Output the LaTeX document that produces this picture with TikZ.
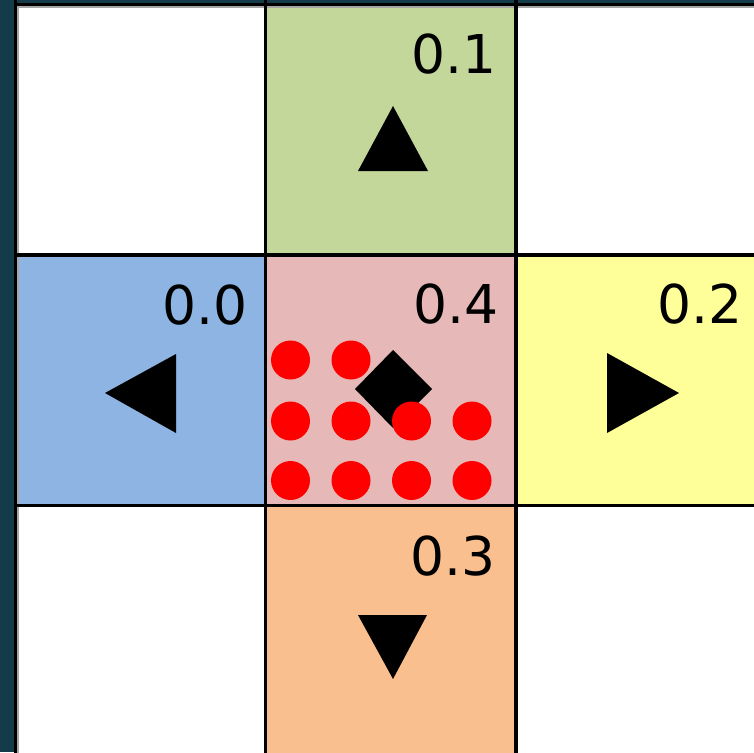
\documentclass[tikz,border=0pt]{standalone}
\usepackage{fontspec}
\setmainfont{DejaVu Sans}
\definecolor{bgteal}{RGB}{19,59,74}
\definecolor{cgreen}{RGB}{196,215,155}
\definecolor{cblue}{RGB}{141,180,226}
\definecolor{cpink}{RGB}{230,184,183}
\definecolor{cyellow}{RGB}{255,255,153}
\definecolor{corange}{RGB}{250,191,143}
\begin{document}
\begin{tikzpicture}[x=1pt,y=-1pt,
  gridline/.style={line width=3.3pt,black},
  prob/.style={anchor=base east,inner sep=0pt,font=\fontsize{53.5}{60}\selectfont},
  glyph/.style={fill=black},
  dot/.style={fill=red}]
\useasboundingbox (0,0) rectangle (754,752);
\clip (0,0) rectangle (754,752);
\fill[bgteal] (0,0) rectangle (754,752);
\fill[white] (15.5,4.7) rectangle (780,780);
% coloured cells
\fill[cgreen]  (265.5,4.7)  rectangle (516,255);
\fill[cblue]   (15.5,255)   rectangle (265.5,505.5);
\fill[cpink]   (265.5,255)  rectangle (516,505.5);
\fill[cyellow] (516,255)    rectangle (780,505.5);
\fill[corange] (265.5,505.5) rectangle (516,780);
% thin inner grey edge of the border
\draw[gray!70,line width=1.3pt] (17.9,780) -- (17.9,6.9) -- (780,6.9);
% grid lines
\foreach \x in {15.5,265.5,516} \draw[gridline] (\x,0) -- (\x,780);
\foreach \y in {4.7,255,505.5} \draw[gridline] (15.5,\y) -- (780,\y);
% labels
\node[prob] (p1) at (497,73) {0.1};
\node[prob] (p0) at (248,324) {0.0};
\node[prob] (p4) at (499,323) {0.4};
\node[prob] (p2) at (743,323) {0.2};
\node[prob] (p3) at (496,575) {0.3};
% arrows
\fill[glyph] (393,106) -- (358,171) -- (428,171) -- cycle;
\fill[glyph] (105,393) -- (176,354) -- (176,433) -- cycle;
\fill[glyph] (607,353) -- (607,433) -- (679,393) -- cycle;
\fill[glyph] (358,615) -- (427,615) -- (393,679) -- cycle;
% diamond
\fill[glyph] (393,350) -- (432,389) -- (393,428) -- (355,389) -- cycle;
% red dots
\foreach \x in {290.5,351} \fill[dot] (\x,360) circle (19.5);
\foreach \y in {421,480.5}
  \foreach \x in {290.5,351,411.5,472} \fill[dot] (\x,\y) circle (19.5);
\end{tikzpicture}
\end{document}
